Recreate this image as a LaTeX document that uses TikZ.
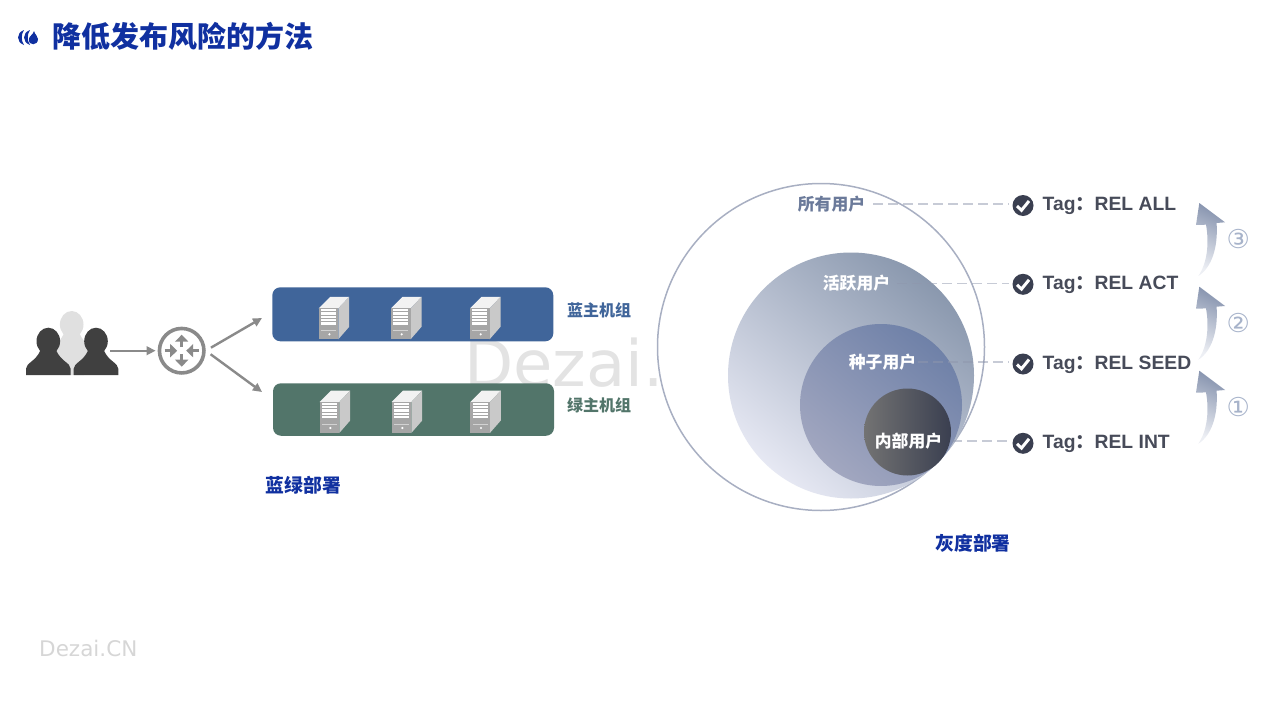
\documentclass[tikz,border=0pt]{standalone}
\usepackage{fontspec}
\setmainfont{Noto Sans CJK SC}
\newfontfamily\cjkfont{Noto Sans CJK SC}
\newfontfamily\tagfont{Liberation Sans}
\newfontfamily\numfont{DejaVu Sans}
\usetikzlibrary{arrows.meta}
\definecolor{titleblue}{HTML}{1030A0}
\definecolor{bluegrp}{HTML}{40659A}
\definecolor{greengrp}{HTML}{52756A}
\definecolor{routergray}{HTML}{8A8A8A}
\definecolor{tagdark}{HTML}{3A3F50}
\definecolor{tagtextc}{HTML}{474B59}
\definecolor{rimc}{HTML}{A8AFC2}
\definecolor{dashc}{HTML}{8F97AD}
\definecolor{rankc}{HTML}{A7B3CA}
\definecolor{alltext}{HTML}{6B7A9A}
\definecolor{acttop}{HTML}{8A98AE}
\definecolor{actlow}{HTML}{E6E8F3}
\definecolor{seedtop}{HTML}{6F81A8}
\definecolor{seedlow}{HTML}{A2A7C0}
\definecolor{risertop}{HTML}{8693AE}
\definecolor{riserlow}{HTML}{EDEFF4}
\tikzset{
  label/.style={inner sep=0pt,font=\fontsize{16}{16}\selectfont\bfseries},
  userlabel/.style={inner sep=0pt,font=\fontsize{16.8}{16.8}\selectfont\bfseries},
  heading/.style={inner sep=0pt,text=titleblue,font=\fontsize{18.8}{18.8}\selectfont\bfseries},
  link/.style={-{Triangle[length=9pt,width=8.5pt]},line width=2.4pt,draw=routergray},
  inner arrow/.style={-{Triangle[length=7pt,width=13pt]},line width=3pt,draw=routergray},
  dashlink/.style={draw=dashc,opacity=.5,line width=1.2pt,dash pattern=on 10pt off 5pt},
  group/.style={rectangle,rounded corners=8pt,minimum width=281pt,inner sep=0pt},
  check/.style={circle,fill=tagdark,minimum size=21pt,inner sep=0pt},
  tagtext/.style={inner sep=0pt,anchor=west,text=tagtextc,font=\fontsize{19.3}{19.3}\tagfont\bfseries},
  rank/.style={inner sep=0pt,text=rankc,font=\fontsize{26}{26}\numfont},
  pics/server/.style={code={
    \fill[gray!10] (0,0) -- (11.5,-11.5) -- (30.5,-11.5) -- (19.6,0) -- cycle;
    \fill[gray!42] (19.6,0) -- (30.5,-11.5) -- (30.5,18.5) -- (19.6,31) -- cycle;
    \fill[gray!70] (0,0) rectangle (19.6,31);
    \foreach \y in {0.7,4,7.3,10.6,13.9}
      \fill[white] (2.2,\y) rectangle (17.4,\y+2.4);
    \fill[gray!35] (2.2,21.5) rectangle (17.4,23);
    \fill[white] (10.7,26) circle (1.2);
  }},
  pics/person/.style={code={
    \fill[#1] (0,-0.5) ellipse (11.8 and 13.5);
    \fill[#1] (-22.3,33.5) -- (-22.3,27) .. controls (-22,21) and (-13,20) .. (-8,9)
      -- (8,9) .. controls (13,20) and (22,21) .. (22.3,27) -- (22.3,33.5) -- cycle;
  }},
  pics/riser/.style={code={
    \shade[top color=risertop,bottom color=riserlow,shading angle=-25]
      (0,0) -- (25.7,19.3) -- (17.3,20) .. controls (19,45) and (12,65) .. (-1,73)
      .. controls (8,60) and (10,40) .. (6.7,21.7) -- (-3.3,22) -- cycle;
  }}
}
\begin{document}
\begin{tikzpicture}[x=1pt,y=-1pt]
  \useasboundingbox (0,0) rectangle (1280,720);
  % watermarks
  \node[inner sep=0pt,anchor=base west,text=black!11,font=\fontsize{64}{64}\numfont] (bigmark) at (464,386) {Dezai.};
  \node[inner sep=0pt,anchor=base west,text=black!16,font=\fontsize{21.5}{21.5}\numfont] (smallmark) at (39,656) {Dezai.CN};
  % title
  \fill[titleblue] (24,30) .. controls (16,33) and (16,42) .. (24,45) .. controls (21,41) and (21,34) .. (24,30);
  \fill[titleblue] (30,30) .. controls (22,33) and (22,42) .. (30,45) .. controls (27,41) and (27,34) .. (30,30);
  \fill[titleblue] (34,31) .. controls (35,35) and (38,36) .. (38,39) .. controls (38,46) and (28,46) .. (29,39) .. controls (29,36) and (33,35) .. (34,31);
  \node[inner sep=0pt,anchor=west,text=titleblue,font=\fontsize{29}{29}\selectfont\bfseries] (title) at (52,36) {降低发布风险的方法};
  % blue green side
  \pic at (71.7,325) {person=black!12};
  \fill[black!12,rounded corners=6pt] (54,341) rectangle (90,375);
  \pic at (48.3,341.7) {person=black!75};
  \pic at (96,341.7) {person=black!75};
  \node[inner sep=0pt,minimum width=84pt,minimum height=20pt] (users) at (68,350.7) {};
  \node[circle,draw=routergray,line width=3.6pt,minimum size=44.5pt,inner sep=0pt] (router) at (181.7,350.7) {};
  \draw[inner arrow] (router.center)+(0,-3.5) -- +(0,-16);
  \draw[inner arrow] (router.center)+(0,3.5) -- +(0,16);
  \draw[inner arrow] (router.center)+(-17,0) -- +(-4.5,0);
  \draw[inner arrow] (router.center)+(17,0) -- +(4.5,0);
  \node[group,fill=bluegrp,minimum height=54pt] (bluebox) at (412.8,314.3) {};
  \node[group,fill=greengrp,minimum height=52.5pt] (greenbox) at (413.5,409.5) {};
  \foreach \x in {318.7,391,470}
    \pic at (\x,308.3) {server};
  \foreach \x in {319.7,391.7,470.3}
    \pic at (\x,402) {server};
  \node[label,text=bluegrp,anchor=west] (bluename) at (567,310) {蓝主机组};
  \node[label,text=greengrp,anchor=west] (greenname) at (567,405) {绿主机组};
  \node[heading] (bgname) at (303.5,485) {蓝绿部署};
  \coordinate (bluein) at (262,318);
  \coordinate (greenin) at (262,392);
  \draw[link,shorten >=2pt] (users) -- (router);
  \draw[link,shorten <=6pt] (router.0) -- (bluein);
  \draw[link,shorten <=6pt] (router.0) -- (greenin);
  % gray release side
  \node[circle,draw=rimc,line width=1.5pt,fill=white,minimum size=327pt,inner sep=0pt] (allc) at (821,347) {};
  \node[circle,top color=acttop,bottom color=actlow,shading angle=-40,minimum size=246pt,inner sep=0pt] (actc) at (851,375.5) {};
  \node[circle,top color=seedtop,bottom color=seedlow,shading angle=-40,minimum size=162pt,inner sep=0pt] (seedc) at (881,405) {};
  \node[circle,left color=black!55,right color=tagdark,minimum size=87pt,inner sep=0pt] (intc) at (907.5,432) {};
  \node[userlabel,text=alltext] (alluser) at (831.5,204) {所有用户};
  \node[userlabel,text=white] (actuser) at (856.5,283.5) {活跃用户};
  \node[userlabel,text=white] (seeduser) at (882.5,362) {种子用户};
  \node[userlabel,text=white] (intuser) at (908.5,441) {内部用户};
  \foreach \nm/\yy/\txt in {all/205.5/ALL,act/284.3/ACT,seed/364/SEED,int/443.3/INT} {
    \node[check] (chk\nm) at (1023,\yy) {};
    \draw[white,line width=3pt] ([shift={(-6,0.5)}]chk\nm.center) -- ([shift={(-1.5,4.8)}]chk\nm.center) -- ([shift={(6,-4.5)}]chk\nm.center);
    \node[tagtext] (tag\nm) at (1042.5,\yy+0.6) {Tag{\cjkfont\bfseries ：}\kern-0.2pt REL \txt};
  }
  \draw[dashlink,shorten <=8pt,shorten >=3pt] (alluser.east) -- (alluser.east -| chkall.west);
  \draw[dashlink,shorten <=7pt,shorten >=3pt] (actuser.east) -- (actuser.east -| chkact.west);
  \draw[dashlink,shorten <=2pt,shorten >=3pt] (seeduser.east) -- (seeduser.east -| chkseed.west);
  \draw[dashlink,shorten <=10pt,shorten >=3pt] (intuser.east) -- (intuser.east -| chkint.west);
  \pic at (1199.3,203) {riser};
  \pic at (1199.3,286.7) {riser};
  \pic at (1199.3,370.7) {riser};
  \node[rank] (rankthree) at (1238.3,239) {③};
  \node[rank] (ranktwo) at (1238.3,322.7) {②};
  \node[rank] (rankone) at (1238.3,406.7) {①};
  \node[heading] (grayname) at (973,543) {灰度部署};
\end{tikzpicture}
\end{document}
